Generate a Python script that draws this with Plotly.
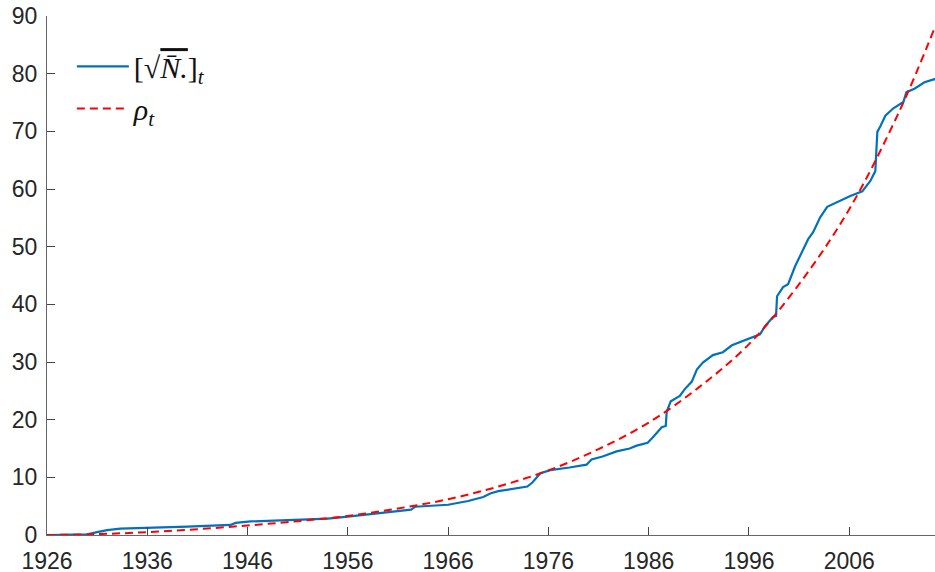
import plotly.graph_objects as go

# Blue series: [sqrt(N)]_t  (year, value)
blue_years = [1926.0, 1929.5, 1930.0, 1931.0, 1932.0, 1933.3, 1936.0, 1940.0, 1944.3, 1944.8,
              1946.3, 1950.0, 1954.0, 1956.0, 1958.0, 1960.0, 1962.3, 1962.7, 1966.0, 1968.0,
              1969.5, 1970.2, 1971.0, 1973.9, 1974.4, 1975.2, 1976.2, 1978.1, 1979.8, 1980.3,
              1981.4, 1982.8, 1984.1, 1984.8, 1985.9, 1986.4, 1987.3, 1987.7, 1987.8, 1988.2,
              1989.1, 1989.6, 1990.3, 1990.8, 1991.4, 1992.4, 1993.4, 1994.3, 1995.8, 1997.1,
              1997.6, 1998.4, 1998.7, 1998.8, 1999.4, 1999.9, 2000.6, 2001.4, 2001.9, 2002.4,
              2003.1, 2003.8, 2004.9, 2006.1, 2007.3, 2008.1, 2008.6, 2008.8, 2009.1, 2009.6,
              2010.4, 2011.4, 2011.7, 2012.5, 2013.5, 2014.6]
blue_values = [0.0, 0.0, 0.1, 0.5, 0.85, 1.1, 1.2, 1.45, 1.75, 2.1,
               2.35, 2.55, 2.85, 3.2, 3.55, 3.9, 4.4, 4.9, 5.25, 5.9,
               6.6, 7.2, 7.6, 8.4, 9.1, 10.7, 11.25, 11.7, 12.2, 13.1,
               13.6, 14.5, 15.0, 15.5, 16.0, 16.9, 18.7, 18.9, 21.4, 23.2,
               24.1, 25.3, 26.6, 28.7, 29.9, 31.2, 31.7, 32.9, 33.9, 34.8,
               36.2, 37.8, 38.0, 41.4, 43.0, 43.5, 46.6, 49.6, 51.3, 52.5,
               55.1, 56.9, 57.8, 58.8, 59.6, 61.4, 63.1, 69.9, 70.9, 72.7,
               74.0, 75.1, 76.8, 77.4, 78.5, 79.1]

# Red dashed series: rho_t
red_years = [1926, 1931, 1936, 1941, 1946, 1951, 1956, 1961, 1966, 1971, 1976,
             1981, 1986, 1991, 1996, 2001, 2006, 2011, 2014.6]
red_values = [0.0, 0.15, 0.5, 1.0, 1.65, 2.4, 3.3, 4.6, 6.2, 8.4, 11.2,
              14.9, 19.5, 25.6, 33.1, 43.5, 56.5, 73.5, 88.3]

x_ticks = [1926, 1936, 1946, 1956, 1966, 1976, 1986, 1996, 2006]
y_ticks = [0, 10, 20, 30, 40, 50, 60, 70, 80, 90]

blue_label = "[√<span style='text-decoration:overline'><i>N̄.</i></span>]<sub><i>t</i></sub>"
red_label = "<i>ρ</i><sub><i>t</i></sub>"

fig = go.Figure()
fig.add_trace(go.Scatter(x=blue_years, y=blue_values, mode="lines", name=blue_label,
                         line=dict(color="#0072BD", width=2.2)))
fig.add_trace(go.Scatter(x=red_years, y=red_values, mode="lines", name=red_label,
                         line=dict(color="#FF0000", width=2, dash="8px,5px", shape="spline")))

axis_common = dict(showgrid=False, zeroline=False, showline=True, linecolor="#666666",
                   linewidth=1.2, ticks="inside", ticklen=8, tickcolor="#444444", tickwidth=1.2,
                   automargin=False,
                   tickfont=dict(family="Liberation Sans, Arial, sans-serif", size=23, color="#262626"))

fig.update_layout(
    width=935, height=572,
    margin=dict(l=47, r=0, t=16, b=36.5),
    paper_bgcolor="white", plot_bgcolor="white",
    xaxis=dict(range=[1926, 2014.55], tickvals=x_ticks, ticklabelstandoff=5, **axis_common),
    yaxis=dict(range=[0, 90], tickvals=y_ticks, ticklabelstandoff=4, **axis_common),
    legend=dict(x=0.028, y=0.953, xanchor="left", yanchor="top",
                bgcolor="rgba(255,255,255,0)",
                font=dict(family="Liberation Serif, DejaVu Serif, serif", size=30, color="#111111"),
                itemwidth=52),
    showlegend=True,
)

fig.write_html("out.html")
